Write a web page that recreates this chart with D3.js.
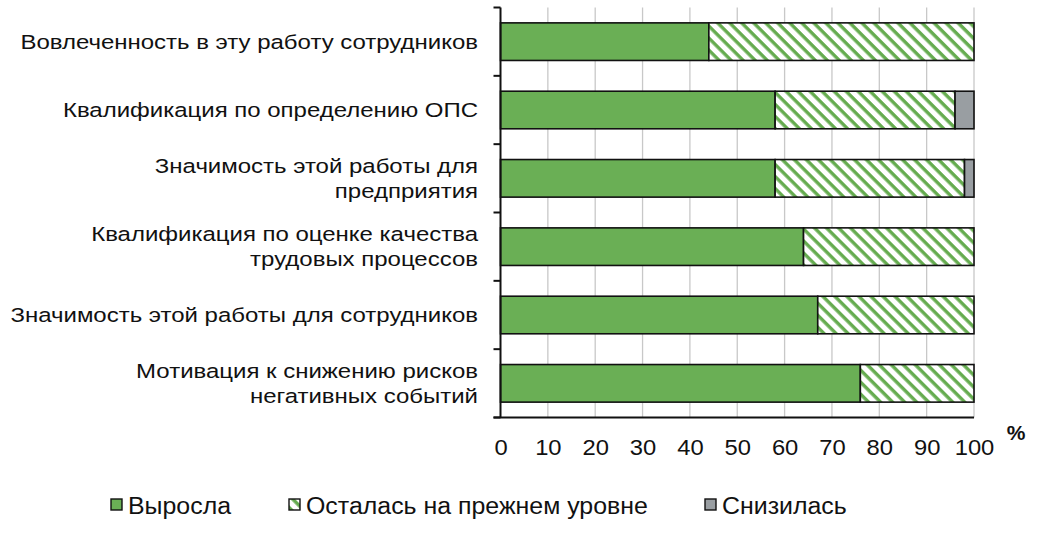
<!DOCTYPE html>
<html lang="ru">
<head>
    <meta charset="UTF-8">
    <title>Chart</title>
    <script src="https://d3js.org/d3.v7.min.js"></script>
    <style>
        body { margin: 0; background: #fff; }
        text { font-family: "Liberation Sans", Arial, sans-serif; fill: #111; }
    </style>
</head>
<body>
    <script>
var categories = [
    ['Вовлеченность в эту работу сотрудников'],
    ['Квалификация по определению ОПС'],
    ['Значимость этой работы для', 'предприятия'],
    ['Квалификация по оценке качества', 'трудовых процессов'],
    ['Значимость этой работы для сотрудников'],
    ['Мотивация к снижению рисков', 'негативных событий']
];
var grew = [44, 58, 58, 64, 67, 76];      // Выросла
var same = [56, 38, 40, 36, 33, 24];      // Осталась на прежнем уровне
var fell = [0, 4, 2, 0, 0, 0];            // Снизилась
var seriesNames = ['Выросла', 'Осталась на прежнем уровне', 'Снизилась'];
var xTicks = [0, 10, 20, 30, 40, 50, 60, 70, 80, 90, 100];

var width = 1047, height = 543;
var plotL = 500.5, plotR = 974, plotT = 7.5, plotB = 417.5;

var svg = d3.select('body').append('svg')
    .attr('width', width)
    .attr('height', height);

// hatch pattern for the middle series
var defs = svg.append('defs');
var pat = defs.append('pattern')
    .attr('id', 'hatch')
    .attr('patternUnits', 'userSpaceOnUse')
    .attr('width', 8.5)
    .attr('height', 8.5)
    .attr('patternTransform', 'rotate(45)');
pat.append('rect').attr('width', 8.5).attr('height', 8.5).attr('fill', '#fff');
pat.append('rect').attr('x', 0).attr('y', 0).attr('width', 8.5).attr('height', 3.4).attr('fill', '#66ac50');

var xScale = d3.scaleLinear().domain([0, 100]).range([plotL, plotR]);
var yScale = d3.scaleBand()
    .domain(d3.range(categories.length))
    .range([plotT, plotB])
    .paddingInner(0.45)
    .paddingOuter(0.225);

// gridlines
svg.append('g')
    .selectAll('line')
    .data(xTicks.slice(1))
    .enter().append('line')
    .attr('x1', function(d) { return xScale(d); })
    .attr('x2', function(d) { return xScale(d); })
    .attr('y1', plotT)
    .attr('y2', plotB)
    .attr('stroke', '#c8c8c8')
    .attr('stroke-width', 1.3);

// stacked rows
var stack = categories.map(function(c, i) {
    return [
        { row: i, x0: 0, x1: grew[i], fill: '#6aaf55' },
        { row: i, x0: grew[i], x1: grew[i] + same[i], fill: 'url(#hatch)' },
        { row: i, x0: grew[i] + same[i], x1: grew[i] + same[i] + fell[i], fill: '#999ea2' }
    ].filter(function(s) { return s.x1 > s.x0; });
});

svg.append('g')
    .selectAll('g')
    .data(stack)
    .enter().append('g')
    .selectAll('rect')
    .data(function(d) { return d; })
    .enter().append('rect')
    .attr('x', function(d) { return xScale(d.x0); })
    .attr('width', function(d) { return xScale(d.x1) - xScale(d.x0); })
    .attr('y', function(d) { return yScale(d.row); })
    .attr('height', yScale.bandwidth())
    .attr('fill', function(d) { return d.fill; })
    .attr('stroke', '#111')
    .attr('stroke-width', 1.6);

// x axis
var xAxis = d3.axisBottom(xScale).tickValues(xTicks).tickSize(0).tickPadding(22);
var gx = svg.append('g')
    .attr('transform', 'translate(0,' + plotB + ')')
    .call(xAxis);
gx.select('.domain').remove();
gx.selectAll('text')
    .style('font-size', '22px')
    .style('font-family', '"Liberation Sans", Arial, sans-serif')
    .attr('fill', '#111')
    .attr('transform', 'scale(1.08,1)');

svg.append('line')
    .attr('x1', plotL - 7).attr('x2', plotR)
    .attr('y1', plotB).attr('y2', plotB)
    .attr('stroke', '#111').attr('stroke-width', 2);

svg.append('text')
    .attr('x', 1016)
    .attr('y', 440)
    .attr('text-anchor', 'middle')
    .style('font-size', '21px')
    .style('font-weight', 'bold')
    .text('%');

// y axis with ticks between categories
var ySep = d3.range(categories.length + 1).map(function(i) { return plotT + i * yScale.step(); });
svg.append('line')
    .attr('x1', plotL).attr('x2', plotL)
    .attr('y1', plotT).attr('y2', plotB)
    .attr('stroke', '#111').attr('stroke-width', 2);
svg.append('g')
    .selectAll('line')
    .data(ySep)
    .enter().append('line')
    .attr('x1', plotL - 7).attr('x2', plotL)
    .attr('y1', function(d) { return d; })
    .attr('y2', function(d) { return d; })
    .attr('stroke', '#111').attr('stroke-width', 2);

// category labels (source font is wider than Arial, so stretch horizontally)
var lab = svg.append('g')
    .selectAll('text')
    .data(categories)
    .enter().append('text')
    .attr('text-anchor', 'end')
    .attr('transform', function(d, i) {
        return 'translate(478,' + (yScale(i) + yScale.bandwidth() / 2) + ') scale(1.17,1)';
    })
    .style('font-size', '20.5px');
lab.selectAll('tspan')
    .data(function(d) { return d; })
    .enter().append('tspan')
    .attr('x', 0)
    .attr('dy', function(d, j, nodes) {
        var n = nodes.length;
        return j === 0 ? ((-(n - 1) * 25 / 2) + 7) : 25;
    })
    .text(function(d) { return d; });

// legend
var legendX = [111, 289, 705];
var legendFill = ['#6aaf55', 'url(#hatch)', '#999ea2'];
var lg = svg.append('g')
    .selectAll('g')
    .data(seriesNames)
    .enter().append('g')
    .attr('transform', function(d, i) { return 'translate(' + legendX[i] + ',505)'; });
lg.append('rect')
    .attr('x', 0).attr('y', -6)
    .attr('width', 11).attr('height', 11)
    .attr('fill', function(d, i) { return legendFill[i]; })
    .attr('stroke', '#111').attr('stroke-width', 1.4);
lg.append('text')
    .attr('transform', 'translate(17,8.5) scale(1.06,1)')
    .style('font-size', '23.5px')
    .text(function(d) { return d; });
    </script>
</body>
</html>
